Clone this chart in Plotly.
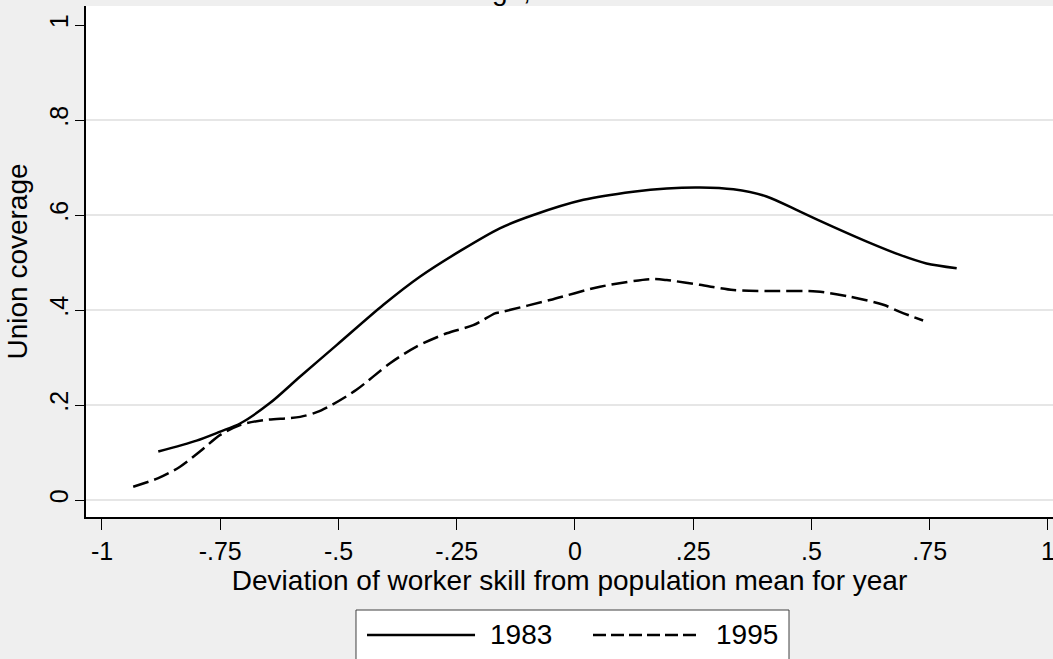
import plotly.graph_objects as go

# ---- data ----
x_1983 = [-0.881, -0.800, -0.750, -0.708, -0.645, -0.581, -0.504, -0.405, -0.328, -0.240,
          -0.159, -0.088, 0.018, 0.123, 0.194, 0.264, 0.335, 0.405, 0.476, 0.546,
          0.617, 0.687, 0.743, 0.807]
y_1983 = [0.102, 0.125, 0.144, 0.161, 0.204, 0.260, 0.326, 0.411, 0.470, 0.526,
          0.572, 0.600, 0.632, 0.649, 0.656, 0.658, 0.654, 0.639, 0.607, 0.575,
          0.544, 0.516, 0.498, 0.488]

x_1995 = [-0.934, -0.881, -0.835, -0.793, -0.750, -0.708, -0.659, -0.581, -0.546, -0.511,
          -0.462, -0.391, -0.335, -0.271, -0.215, -0.169, -0.159, -0.053, 0.053, 0.159,
          0.194, 0.264, 0.335, 0.405, 0.511, 0.581, 0.652, 0.687, 0.736]
y_1995 = [0.028, 0.046, 0.070, 0.102, 0.137, 0.158, 0.168, 0.175, 0.185, 0.202,
          0.232, 0.288, 0.323, 0.351, 0.368, 0.393, 0.395, 0.421, 0.449, 0.465,
          0.463, 0.453, 0.442, 0.440, 0.439, 0.428, 0.411, 0.396, 0.378]

x_ticks = [-1, -0.75, -0.5, -0.25, 0, 0.25, 0.5, 0.75, 1]
x_tick_labels = ["-1", "-.75", "-.5", "-.25", "0", ".25", ".5", ".75", "1"]
y_ticks = [0, 0.2, 0.4, 0.6, 0.8, 1]
y_tick_labels = ["0", ".2", ".4", ".6", ".8", "1"]
grid_vals = [0, 0.2, 0.4, 0.6, 0.8]

series_names = ["1983", "1995"]
title_text = "Union coverage, 1983 and 1995"
x_title = "Deviation of worker skill from population mean for year"
y_title = "Union coverage"

FONT = "Liberation Sans, Arial, sans-serif"
BG = "#efefef"
DASH = "16px,6px"

fig = go.Figure()
fig.add_trace(go.Scatter(x=x_1983, y=y_1983, mode="lines", name=series_names[0],
                         line=dict(color="black", width=2.5, shape="spline", smoothing=0.8),
                         showlegend=False))
fig.add_trace(go.Scatter(x=x_1995, y=y_1995, mode="lines", name=series_names[1],
                         line=dict(color="black", width=2.5, dash=DASH, shape="spline", smoothing=0.8),
                         showlegend=False))

# horizontal gridlines (none at the top tick)
for g in grid_vals:
    fig.add_shape(type="line", xref="paper", yref="y", x0=0, x1=1, y0=g, y1=g,
                  line=dict(color="#e6e6e6", width=2), layer="below")

# manual legend (Stata style, long sample lines)
fig.add_shape(type="rect", xref="paper", yref="paper", x0=0.2792, x1=0.727, y0=-0.182, y1=-0.32,
              line=dict(color="#404040", width=1), fillcolor="white", layer="above")
fig.add_shape(type="line", xref="paper", yref="paper", x0=0.2906, x1=0.4023, y0=-0.2309, y1=-0.2309,
              line=dict(color="black", width=2.5))
fig.add_shape(type="line", xref="paper", yref="paper", x0=0.5243, x1=0.6350, y0=-0.2309, y1=-0.2309,
              line=dict(color="black", width=2.5, dash="13px,5px"))
fig.add_annotation(xref="paper", yref="paper", x=0.4155, y=-0.2309, text=series_names[0],
                   showarrow=False, xanchor="left", yanchor="middle",
                   font=dict(family=FONT, size=28, color="black"))
fig.add_annotation(xref="paper", yref="paper", x=0.6492, y=-0.2309, text=series_names[1],
                   showarrow=False, xanchor="left", yanchor="middle",
                   font=dict(family=FONT, size=28, color="black"))

# title, mostly cropped off the top edge as in the reference
fig.add_annotation(xref="paper", yref="paper", x=0.4555, y=1.030, text=title_text,
                   showarrow=False, xanchor="center", yanchor="middle",
                   font=dict(family=FONT, size=28, color="black"))

fig.update_layout(
    width=1053, height=659,
    margin=dict(l=86, r=0, t=6, b=142, pad=0, autoexpand=False),
    paper_bgcolor=BG, plot_bgcolor="white",
    font=dict(family=FONT, size=24, color="black"),
    showlegend=False,
)
fig.update_xaxes(range=[-1.0338, 1.0106], tickvals=x_ticks, ticktext=x_tick_labels,
                 automargin=False, ticklabeloverflow="allow",
                 showgrid=False, zeroline=False, showline=True, linecolor="black", linewidth=1.5,
                 ticks="outside", ticklen=11, tickwidth=1.2, tickcolor="black",
                 tickfont=dict(family=FONT, size=25, color="black"),
                 title=dict(text=x_title, font=dict(family=FONT, size=28, color="black"), standoff=0))
fig.update_yaxes(range=[-0.0358, 1.04], tickvals=y_ticks, ticktext=y_tick_labels,
                 automargin=False, ticklabelstandoff=-3,
                 showgrid=False, zeroline=False, showline=True, linecolor="black", linewidth=1.5,
                 ticks="outside", ticklen=9, tickwidth=1.2, tickcolor="black", tickangle=-90,
                 tickfont=dict(family=FONT, size=25, color="black"),
                 title=dict(text=y_title, font=dict(family=FONT, size=28, color="black"), standoff=9))

fig.write_html("out.html", config={"displayModeBar": False},
               post_script="document.body.style.margin='0px';document.body.style.background='" + BG + "';")
